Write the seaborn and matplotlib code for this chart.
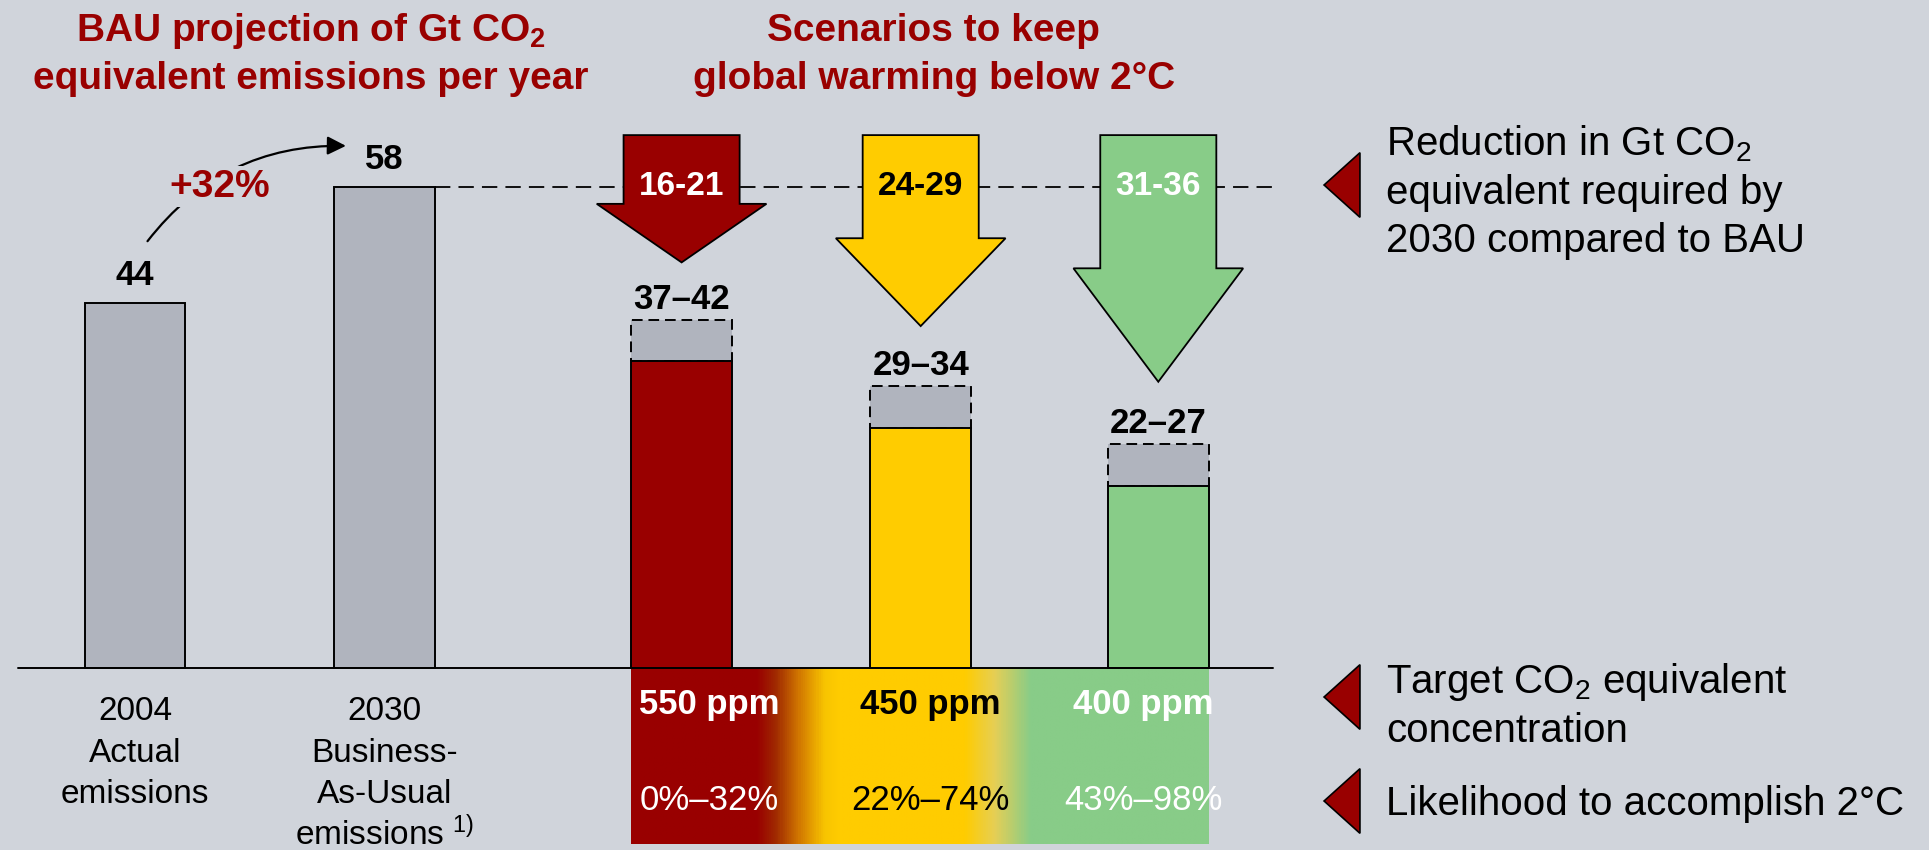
import numpy as np
import pandas as pd
import seaborn as sns
import matplotlib.pyplot as plt
from matplotlib.patches import Polygon
from matplotlib.colors import LinearSegmentedColormap

# ---- values ----
bau_names = ["2004", "2030"]
bau_lines = [["2004", "Actual", "emissions"],
             ["2030", "Business-", "As-Usual", "emissions $^{1)}$"]]
bau_values = [44, 58]
growth = "+32%"

scen_names = ["550 ppm", "450 ppm", "400 ppm"]
scen_low = [37, 29, 22]
scen_high = [42, 34, 27]
cut_low = [16, 24, 31]
cut_high = [21, 29, 36]
likelihood = ["0%–32%", "22%–74%", "43%–98%"]

titles = [["BAU projection of Gt CO$_2$", "equivalent emissions per year"],
          ["Scenarios to keep", "global warming below 2°C"]]
notes = [["Reduction in Gt CO$_2$", "equivalent required by", "2030 compared to BAU"],
         ["Target CO$_2$ equivalent", "concentration"],
         ["Likelihood to accomplish 2°C"]]

# ---- colours ----
bg = "#D0D4DB"
gray = "#B0B4BE"
red = "#990000"
yellow = "#FFCC00"
green = "#88CC88"
scen_colors = [red, yellow, green]
scen_text = ["white", "black", "white"]

sns.set_theme(style="white")
plt.rcParams["font.family"] = ["Liberation Sans", "DejaVu Sans"]
plt.rcParams["mathtext.default"] = "regular"
plt.rcParams["text.color"] = "black"

fig = plt.figure(figsize=(19.29, 8.5), dpi=100)
fig.patch.set_facecolor(bg)
ax = fig.add_axes([0, 0, 1, 1])

# layout (data units on x)
xpos = np.array([0, 1, 2.19, 3.148, 4.10])
bar_w = 0.403
sx = xpos[2:]
x_left = xpos[0] - 0.47
x_right = xpos[-1] + 0.46

# solid bars
names = bau_names + scen_names
df = pd.DataFrame({"x": xpos, "value": bau_values + scen_low, "name": names})
palette = dict(zip(names, [gray, gray] + scen_colors))
sns.barplot(data=df, x="x", y="value", hue="name", palette=palette,
            native_scale=True, width=bar_w / np.diff(xpos).min(),
            saturation=1, errorbar=None, legend=False,
            edgecolor="black", linewidth=1.4, ax=ax, zorder=2)

# dashed range boxes on top of the scenario bars
lo = np.array(scen_low)
hi = np.array(scen_high)
ax.bar(sx, hi - lo, bottom=lo, width=bar_w, color=gray, edgecolor="black",
       linewidth=1.4, linestyle=(0, (5.5, 3)), zorder=1)

# baseline and BAU reference line
ax.plot([x_left, x_right], [0, 0], color="black", lw=1.4, zorder=4)
ax.plot([xpos[1] + bar_w / 2, x_right], [bau_values[1]] * 2, color="black",
        lw=1.3, ls=(0, (8.5, 4.5)), zorder=3)

# gradient band under the scenarios
band_l = sx[0] - bar_w / 2
band_r = sx[-1] + bar_w / 2
cmap = LinearSegmentedColormap.from_list("band", [
    (0, red), (0.217, red), (0.25, "#A02A00"), (0.29, "#D27800"),
    (0.334, "#F8C400"), (0.36, yellow), (0.578, yellow),
    (0.63, "#E6CF55"), (0.692, green), (1, green)])
grad = np.linspace(0, 1, 800)[None, :]
ax.imshow(grad, cmap=cmap, extent=[band_l, band_r, -21.2, 0], aspect="auto",
          interpolation="bilinear", zorder=1)

# reduction arrows
sw, hw = 0.465, 0.68
top = bau_values[1] + 6.3
for i in range(3):
    cx = sx[i]
    L = 0.96 * cut_low[i]
    tip = top - L
    sh = top - 0.54 * L
    pts = [(cx - sw / 2, top), (cx + sw / 2, top), (cx + sw / 2, sh),
           (cx + hw / 2, sh), (cx, tip), (cx - hw / 2, sh), (cx - sw / 2, sh)]
    ax.add_patch(Polygon(pts, closed=True, facecolor=scen_colors[i],
                         edgecolor="black", lw=1.3, zorder=5))
    ax.annotate(f"{cut_low[i]}-{cut_high[i]}", (cx, bau_values[1]),
                xytext=(0, -5.8), textcoords="offset points", ha="center",
                va="baseline", fontsize=24, fontweight="bold",
                color=scen_text[i], zorder=6)

# value labels
for x, v in zip(xpos[:2], bau_values):
    ax.annotate(str(v), (x, v), xytext=(0, 13.5), textcoords="offset points",
                ha="center", va="baseline", fontsize=25, fontweight="bold")
for x, l, h in zip(sx, scen_low, scen_high):
    ax.annotate(f"{l}–{h}", (x, h), xytext=(0, 8), textcoords="offset points",
                ha="center", va="baseline", fontsize=25, fontweight="bold")

# growth arc
a0 = (xpos[0] + 0.05, bau_values[0] + 7.5)
a1 = (xpos[1] - 0.155, bau_values[1] + 5)
ax.annotate("", xy=a1, xytext=a0,
            arrowprops=dict(arrowstyle="-|>", color="black", lw=1.6,
                            mutation_scale=28, shrinkA=0, shrinkB=0,
                            connectionstyle="arc3,rad=-0.25"))
ax.text((a0[0] + a1[0]) / 2 - 0.11, (a0[1] + a1[1]) / 2 - 0.36, growth,
        ha="center", va="baseline", fontsize=28, fontweight="bold", color=red,
        bbox=dict(facecolor=bg, edgecolor="none", pad=2), zorder=5)

# category labels under the BAU bars
for x, lines in zip(xpos[:2], bau_lines):
    for k, t in enumerate(lines):
        ax.text(x, -6.27 - 5.03 * k, t, ha="center", va="baseline", fontsize=24)

# texts in the band
band_dx = [0.11, 0.04, -0.06]
for i in range(3):
    ax.text(sx[i] + band_dx[i], -5.55, scen_names[i], ha="center",
            va="baseline", fontsize=25, fontweight="bold", color=scen_text[i],
            zorder=6)
    ax.text(sx[i] + band_dx[i], -17.1, likelihood[i], ha="center",
            va="baseline", fontsize=25, color=scen_text[i], zorder=6)

# headings
for cx, lines in zip([0.161, 0.484], titles):
    for k, t in enumerate(lines):
        fig.text(cx, 1 - (41 + 48 * k) / 850, t, ha="center", va="baseline",
                 fontsize=28, fontweight="bold", color=red)

# side notes with triangle markers
note_base = [155, 693, 815]
note_mark = [185, 697, 801]
for lines, yb, ym in zip(notes, note_base, note_mark):
    yc = 1 - ym / 850
    fig.add_artist(Polygon([(0.6864, yc), (0.705, yc + 0.038), (0.705, yc - 0.038)],
                           closed=True, facecolor=red, edgecolor="black",
                           lw=1.2, transform=fig.transFigure))
    for k, t in enumerate(lines):
        fig.text(0.7185, 1 - (yb + 48.5 * k) / 850, t, ha="left",
                 va="baseline", fontsize=29)

ax.set_xlim(-0.541, 7.188)
ax.set_ylim(-21.95, 80.6)
ax.axis("off")

fig.savefig("out.png", dpi=100, facecolor=bg)
